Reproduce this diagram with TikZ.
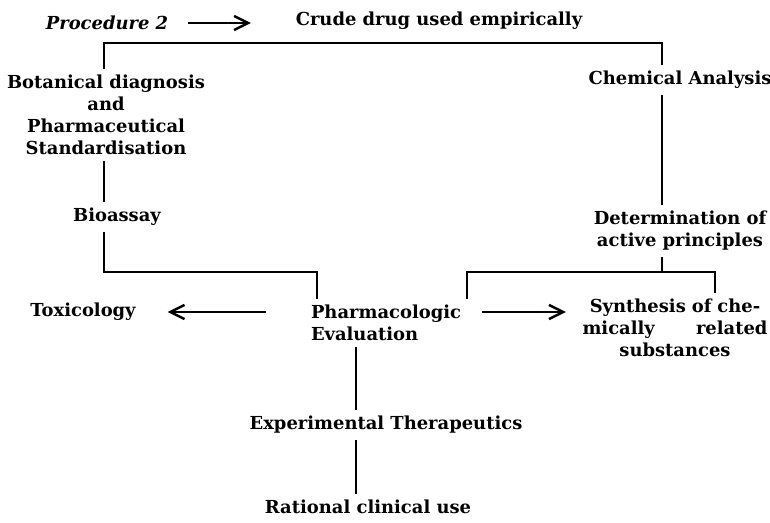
\documentclass[tikz,border=0pt]{standalone}
\usepackage{fontspec}
\setmainfont{DejaVu Serif}
\usetikzlibrary{arrows.meta}
\begin{document}
\begin{tikzpicture}[x=0.02cm, y=-0.02cm,
  every node/.style={font=\fontsize{10.2}{12.5}\selectfont\bfseries, align=center},
  link/.style={line width=1pt},
  chev/.style={line width=1pt, -{Straight Barb[length=0.1pt, width=0.1pt, line width=0.1pt, color=white, sep=3pt]
    Straight Barb[length=8pt, width=8pt, line width=1.4pt]}}]
  \useasboundingbox (0,0) rectangle (770,523);

  % Top row
  \node (proc) at (107,23) {\itshape Procedure 2};
  \node (crude) at (439,21) {Crude drug used empirically};
  \draw[chev, shorten <=8pt, shorten >=22pt] (proc.east) -- (proc.east -| crude.west);

  % Left branch
  \node (botan) at (106,115) {Botanical diagnosis\\and\\Pharmaceutical\\Standardisation};
  \node (bioassay) at (117,217) {Bioassay};

  % Right branch
  \node (chem) at (680,80) {Chemical Analysis};
  \node (determ) at (680,231) {Determination of\\active principles};

  % Middle row
  \node (tox) at (83,312) {Toxicology};
  \node[align=left] (pharm) at (386,323) {Pharmacologic\\Evaluation};
  \node[text width=3.7cm] (synth) at (675,328) {Synthesis of che-\\mically\hfill related\\substances};
  \draw[chev, shorten <=22pt, shorten >=14.7pt] (pharm.west |- tox) -- (tox.east);
  \draw[chev, shorten <=8.5pt, shorten >=6pt] (pharm.east |- tox) -- (synth.west |- tox);

  % Bottom column
  \node (exper) at (386,425) {Experimental Therapeutics};
  \node (ration) at (368,507) {Rational clinical use};

  % Brackets
  \coordinate (lcol) at (104,0);
  \coordinate (rcol) at (662,0);
  \coordinate (mcol) at (356,0);
  \coordinate (topbar) at (380,43);
  \coordinate (ll) at (104,272);
  \coordinate (lr) at (317,272);
  \coordinate (rl) at (467,272);
  \coordinate (rr) at (715,272);
  \draw[link] (botan.north -| lcol) |- (topbar) -| (chem.north -| rcol);
  \draw[link] (botan.south -| lcol) -- (bioassay.north -| lcol);
  \draw[link] (bioassay.south -| ll) |- (lr) -- (pharm.north -| lr);
  \draw[link] (chem.south -| rcol) -- (determ.north -| rcol);
  \draw[link] (determ.south -| rcol) -- (rl -| rcol);
  \draw[link] (pharm.north -| rl) |- (rr) -- (synth.north -| rr);
  \draw[link] (pharm.south -| mcol) -- (exper.north -| mcol);
  \draw[link] (exper.south -| mcol) -- (ration.north -| mcol);
\end{tikzpicture}
\end{document}
